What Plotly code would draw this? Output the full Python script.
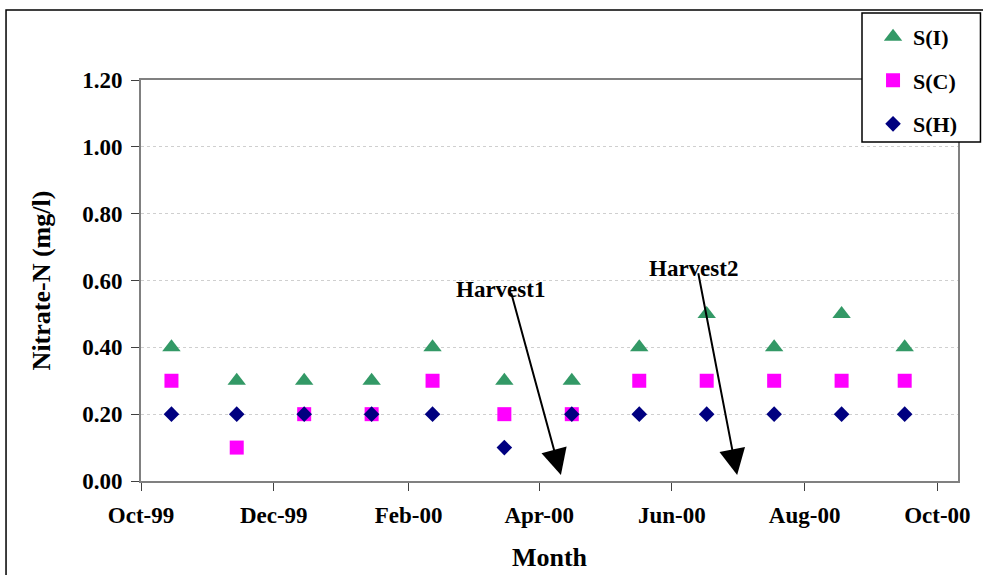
import plotly.graph_objects as go

# ---- data ----
dates = ["1999-10-15", "1999-11-14", "1999-12-15", "2000-01-15", "2000-02-12", "2000-03-16",
         "2000-04-16", "2000-05-17", "2000-06-17", "2000-07-18", "2000-08-18", "2000-09-16"]
s_i = [0.4, 0.3, 0.3, 0.3, 0.4, 0.3, 0.3, 0.4, 0.5, 0.4, 0.5, 0.4]
s_c = [0.3, 0.1, 0.2, 0.2, 0.3, 0.2, 0.2, 0.3, 0.3, 0.3, 0.3, 0.3]
s_h = [0.2, 0.2, 0.2, 0.2, 0.2, 0.1, 0.2, 0.2, 0.2, 0.2, 0.2, 0.2]

tick_dates = ["1999-10-01", "1999-12-01", "2000-02-01", "2000-04-01", "2000-06-01", "2000-08-01", "2000-10-01"]
tick_labels = ["Oct-99", "Dec-99", "Feb-00", "Apr-00", "Jun-00", "Aug-00", "Oct-00"]
y_ticks = [0.0, 0.2, 0.4, 0.6, 0.8, 1.0, 1.2]

harvest_labels = ["Harvest1", "Harvest2"]
harvest_label_pos = [("2000-03-14", 0.572), ("2000-06-11", 0.637)]
harvest_arrow_start = [("2000-03-19", 0.566), ("2000-06-13", 0.626)]
harvest_arrow_end = [("2000-04-11", 0.018), ("2000-07-01", 0.018)]

FONT = "Liberation Serif"

fig = go.Figure()
series = [
    ("S(I)", s_i, "triangle-up", "#339966", 16),
    ("S(C)", s_c, "square", "#FF00FF", 14),
    ("S(H)", s_h, "diamond", "#000080", 12),
]
for name, vals, sym, col, sz in series:
    fig.add_trace(go.Scatter(
        x=dates, y=vals, mode="markers", name=name, legendgroup=name,
        marker=dict(symbol=sym, color=col, size=sz, line=dict(width=0)),
    ))

annotations = []
for lab, (lx, ly), (sx, sy), (ex, ey) in zip(harvest_labels, harvest_label_pos,
                                             harvest_arrow_start, harvest_arrow_end):
    annotations.append(dict(x=ex, y=ey, ax=sx, ay=sy, xref="x", yref="y", axref="x", ayref="y",
                            text="", showarrow=True, arrowhead=2, arrowsize=2.6, arrowwidth=2,
                            arrowcolor="black"))
    annotations.append(dict(x=lx, y=ly, xref="x", yref="y", text=lab, showarrow=False,
                            font=dict(family=FONT, size=23, color="black", weight="bold")))

fig.update_layout(
    width=983, height=575,
    margin=dict(l=141, r=25, t=80, b=94),
    paper_bgcolor="white", plot_bgcolor="white",
    font=dict(family=FONT, size=22, color="black", weight="bold"),
    showlegend=True,
    legend=dict(x=0.896, y=1.16, xanchor="left", yanchor="top",
                bgcolor="rgba(0,0,0,0)", borderwidth=0,
                traceorder="grouped", tracegroupgap=12,
                font=dict(family=FONT, size=22, color="black", weight="bold")),
    xaxis=dict(type="date", range=["1999-10-01", "2000-10-10 12:00"],
               tickvals=tick_dates, ticktext=tick_labels, automargin=False,
               showgrid=False, zeroline=False,
               showline=True, linecolor="#808080", linewidth=2, mirror=True,
               ticks="outside", ticklen=8, tickcolor="#404040", tickwidth=1,
               ticklabelstandoff=4,
               tickfont=dict(family=FONT, size=23, color="black", weight="bold"),
               title=dict(text="Month", standoff=21,
                          font=dict(family=FONT, size=26, color="black", weight="bold"))),
    yaxis=dict(range=[0, 1.2], tickvals=y_ticks, tickformat=".2f", automargin=False,
               showgrid=True, gridcolor="#cfcfcf", griddash="dot", gridwidth=1,
               zeroline=False,
               showline=True, linecolor="#808080", linewidth=2, mirror=True,
               ticks="outside", ticklen=8, tickcolor="#404040", tickwidth=1,
               ticklabelstandoff=4,
               tickfont=dict(family=FONT, size=23, color="black", weight="bold"),
               title=dict(text="Nitrate-N (mg/l)", standoff=24,
                          font=dict(family=FONT, size=26, color="black", weight="bold"))),
    annotations=annotations,
    shapes=[
        # outer chart frame
        dict(type="rect", xref="paper", yref="paper", x0=-0.1652, x1=1.04, y0=-0.28, y1=1.1746,
             line=dict(color="black", width=1.5), fillcolor="rgba(0,0,0,0)", layer="below"),
        # legend box
        dict(type="rect", xref="paper", yref="paper", x0=0.8825, x1=1.0275, y0=0.8454, y1=1.1671,
             line=dict(color="black", width=1.5), fillcolor="white", layer="above"),
    ],
)

fig.write_html("out.html", config={"displayModeBar": False},
               post_script="document.body.style.margin='0';document.body.style.overflow='hidden';")
